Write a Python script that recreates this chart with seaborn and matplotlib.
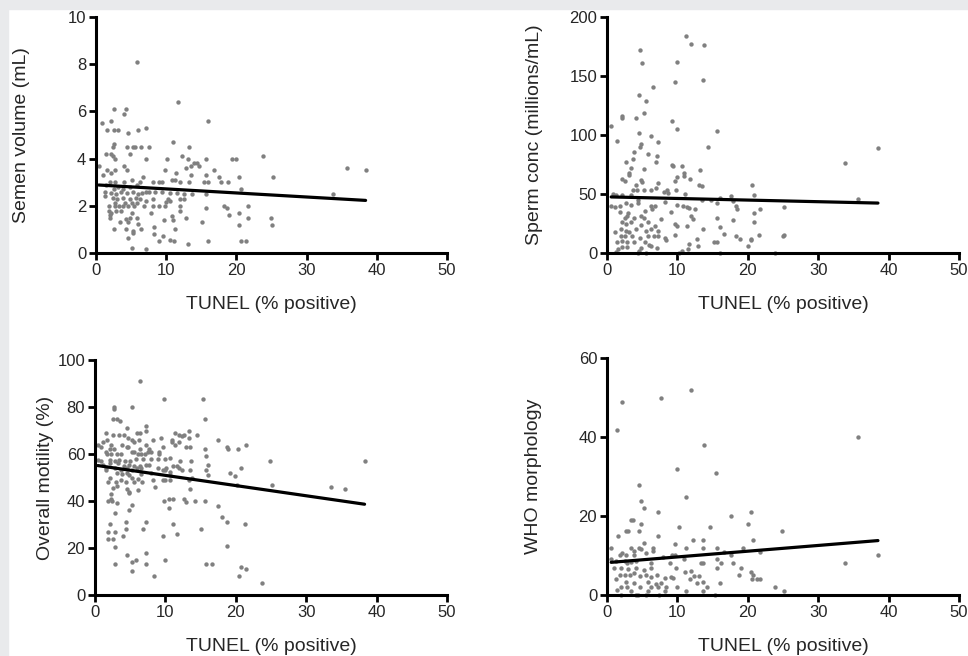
import matplotlib
matplotlib.use("Agg")
import matplotlib.pyplot as plt
import seaborn as sns
import numpy as np
from matplotlib.patches import Rectangle

# TUNEL (% positive) vs semen parameters
vol_x = [5.8, 11.7, 16.0, 0.8, 2.6, 4.3, 4.0, 2.1, 1.5, 2.5, 3.2, 4.6, 6.0, 7.1, 2.4, 2.6, 4.4, 5.2, 5.5, 6.4,
         7.6, 10.9, 13.3, 1.4, 2.1, 2.4, 4.9, 2.7, 7.1, 10.1, 12.2, 13.1, 15.6, 19.3, 19.9, 23.8, 0.4, 4.0, 13.6, 13.9,
         14.4, 14.7, 16.8, 35.7, 38.4, 25.2, 20.4, 15.6, 13.6, 12.8, 11.4, 9.8, 1.6, 2.7, 4.4, 2.1, 1.0, 17.5, 17.8, 18.8,
         15.4, 16.0, 13.3, 12.0, 10.8, 11.3, 9.0, 8.1, 9.4, 6.7, 6.2, 5.8, 5.1, 4.0, 2.7, 2.0, 1.4, 3.2, 4.9, 3.9,
         2.5, 1.3, 2.1, 2.9, 3.5, 4.4, 5.3, 6.0, 6.5, 7.1, 7.5, 8.4, 9.4, 10.5, 11.5, 12.6, 13.7, 15.6, 20.7, 33.8,
         1.3, 2.4, 3.0, 3.9, 4.9, 5.7, 6.3, 7.1, 8.1, 10.3, 12.0, 12.5, 2.7, 4.1, 5.1, 5.8, 1.8, 2.7, 3.3, 3.9,
         4.6, 5.4, 6.9, 8.1, 9.0, 9.8, 10.6, 11.9, 18.2, 21.6, 1.8, 2.2, 2.9, 3.5, 5.1, 7.9, 10.0, 11.9, 18.7, 20.4,
         2.0, 4.2, 4.9, 5.9, 2.0, 10.8, 12.8, 15.6, 18.9, 21.6, 24.9, 3.4, 4.5, 6.0, 9.7, 10.9, 15.1, 2.6, 4.3, 5.3,
         5.3, 6.4, 8.3, 11.3, 20.4, 25.0, 8.3, 9.5, 4.5, 9.0, 10.6, 11.1, 13.1, 15.9, 20.6, 21.4, 5.1, 7.1]
vol_y = [8.1, 6.4, 5.6, 5.5, 6.1, 6.1, 5.9, 5.6, 5.2, 5.2, 5.2, 5.1, 5.2, 5.3, 4.5, 4.6, 4.5, 4.5, 4.5, 4.5,
         4.5, 4.7, 4.5, 4.2, 4.2, 4.1, 4.2, 4.0, 4.0, 4.0, 4.1, 4.0, 4.0, 4.0, 4.0, 4.1, 3.7, 3.7, 3.7, 3.8,
         3.8, 3.7, 3.5, 3.6, 3.5, 3.2, 3.2, 3.3, 3.3, 3.6, 3.4, 3.5, 3.5, 3.5, 3.5, 3.4, 3.3, 3.2, 3.0, 3.0,
         3.0, 3.0, 3.0, 3.0, 3.1, 3.1, 3.0, 3.0, 3.0, 3.2, 3.0, 2.9, 3.1, 3.0, 3.0, 3.0, 2.9, 2.8, 2.8, 2.7,
         2.7, 2.6, 2.55, 2.5, 2.6, 2.55, 2.6, 2.5, 2.55, 2.6, 2.6, 2.6, 2.6, 2.55, 2.55, 2.5, 2.5, 2.5, 2.7, 2.5,
         2.4, 2.35, 2.3, 2.35, 2.3, 2.35, 2.3, 2.2, 2.3, 2.3, 2.3, 2.3, 2.1, 2.1, 2.1, 2.1, 2.0, 2.0, 2.0, 2.0,
         2.0, 2.0, 2.0, 2.0, 2.0, 2.0, 2.2, 2.0, 2.0, 2.0, 1.8, 1.7, 1.8, 1.8, 1.7, 1.7, 2.15, 1.8, 1.9, 1.7,
         1.5, 1.45, 1.5, 1.5, 1.6, 1.55, 1.5, 1.9, 1.6, 1.5, 1.5, 1.3, 1.3, 1.25, 1.4, 1.4, 1.3, 1.0, 1.0, 0.95,
         0.85, 1.0, 1.1, 1.0, 1.2, 1.2, 0.8, 0.7, 0.65, 0.5, 0.55, 0.5, 0.4, 0.5, 0.5, 0.5, 0.2, 0.15]

conc_x = [11.2, 12.0, 13.8, 4.7, 5.0, 10.0, 9.7, 13.7, 6.5, 4.6, 5.5, 5.2, 2.2, 2.2, 4.1, 9.2, 0.6, 10.0, 15.6, 4.5,
          1.5, 6.2, 7.2, 14.3, 38.5, 4.9, 4.7, 3.9, 5.9, 7.1, 3.7, 2.7, 7.0, 33.8, 9.3, 9.4, 10.7, 13.2, 3.4, 5.2,
          3.2, 11.0, 11.0, 3.1, 2.1, 2.5, 4.8, 5.0, 4.1, 9.6, 10.0, 11.8, 13.1, 13.5, 7.2, 20.6, 20.9, 4.2, 5.2, 7.0,
          8.1, 8.5, 9.8, 8.7, 11.1, 0.9, 1.3, 2.1, 3.7, 3.4, 6.3, 16.1, 17.6, 17.9, 14.8, 35.6, 13.5, 0.6, 1.1, 1.9,
          2.7, 4.4, 3.4, 4.4, 6.3, 6.8, 8.2, 10.0, 10.8, 11.4, 11.6, 12.5, 15.6, 18.3, 18.5, 21.7, 20.9, 25.1, 1.8, 3.0,
          5.4, 6.4, 9.1, 2.5, 2.9, 3.8, 4.8, 5.2, 7.7, 12.0, 12.2, 15.7, 17.9, 20.9, 2.2, 2.7, 3.4, 4.8, 5.8, 6.8,
          9.6, 10.0, 11.4, 13.6, 16.1, 1.1, 2.0, 2.7, 3.2, 4.1, 5.5, 6.3, 7.2, 16.7, 2.0, 2.5, 3.6, 4.7, 5.8, 6.7,
          7.3, 8.2, 9.7, 12.8, 18.3, 18.9, 20.5, 25.2, 25.0, 21.6, 1.5, 2.2, 2.9, 3.8, 5.4, 6.0, 8.4, 11.7, 13.0, 15.2,
          15.7, 20.0, 20.5, 1.6, 2.1, 2.8, 4.5, 4.8, 6.3, 7.1, 10.6, 11.5, 4.4, 5.5, 10.3, 16.1, 23.9, 1.3]
conc_y = [184, 177, 176, 172, 161, 162, 145, 147, 141, 134, 129, 119, 116, 114, 114, 112, 108, 105, 103, 102,
          95, 99, 94, 90, 89, 92, 90, 86, 84, 82, 80, 77, 77, 76, 75, 74, 74, 70, 72, 71,
          68, 68, 65, 66, 63, 61, 62, 60, 58, 61, 64, 63, 58, 57, 59, 58, 49, 53, 53, 55,
          52, 53, 53, 51, 50, 50, 49, 49, 53, 49, 53, 47, 48, 44, 45, 46, 45, 40, 39, 40,
          42, 45, 41, 42, 40, 40, 43, 41, 40, 39, 38, 37, 42, 40, 37, 37, 34, 39, 35, 34,
          36, 37, 35, 30, 31, 30, 31, 30, 29, 31, 29, 30, 28, 26, 26, 25, 26, 24, 26, 23,
          25, 23, 23, 20, 22, 18, 20, 19, 18, 20, 19, 20, 19, 16, 14, 14, 14, 13, 14, 14,
          14, 13, 15, 12, 14, 12, 12, 15, 14, 15, 9, 10, 9, 9, 9, 7, 11, 8, 6, 9,
          9, 6, 11, 3, 5, 5, 2, 4, 6, 4, 2, 3, 0, 0, 0, 0, 0, 1]

mot_x = [6.4, 9.8, 15.4, 2.7, 2.7, 5.2, 15.6, 2.6, 3.1, 3.6, 7.2, 7.2, 4.5, 13.4, 11.3, 1.5, 14.5, 2.6, 3.4, 4.1,
         6.0, 6.4, 4.7, 5.2, 9.4, 10.9, 12.7, 12.0, 12.4, 0.5, 1.1, 1.7, 2.3, 3.9, 4.5, 5.6, 6.3, 7.3, 8.2, 10.9,
         11.3, 11.9, 13.4, 17.5, 21.5, 0.8, 1.5, 2.1, 2.7, 3.1, 4.7, 5.2, 5.6, 6.4, 7.7, 8.0, 9.1, 9.7, 13.0, 13.5,
         15.7, 18.7, 18.9, 20.3, 1.7, 2.3, 3.7, 6.1, 6.6, 7.1, 7.6, 9.1, 10.7, 15.8, 38.3, 24.8, 0.4, 0.9, 2.2, 2.8,
         3.4, 4.2, 5.0, 5.8, 6.8, 7.9, 9.0, 9.9, 12.1, 13.6, 16.1, 1.1, 2.1, 3.3, 4.1, 4.8, 5.6, 6.4, 7.3, 7.7,
         9.0, 10.1, 11.1, 11.6, 12.0, 20.7, 1.5, 1.5, 2.9, 3.7, 4.5, 5.2, 6.0, 6.6, 9.6, 9.9, 10.6, 12.3, 13.5, 15.8,
         16.0, 3.1, 3.8, 4.5, 4.9, 6.6, 8.0, 10.7, 13.8, 19.2, 19.9, 2.1, 3.7, 5.2, 6.1, 8.2, 9.7, 10.0, 10.6, 13.3,
         1.8, 3.0, 4.4, 5.6, 6.7, 20.2, 25.2, 3.2, 8.6, 33.6, 35.5, 13.5, 2.6, 4.5, 4.9, 6.1, 4.9, 2.3, 2.3, 1.8,
         2.4, 10.5, 11.1, 12.6, 9.8, 13.0, 14.2, 15.7, 17.5, 3.1, 5.2, 4.9, 10.5, 2.8, 18.1, 18.7, 21.3, 4.4, 7.2, 2.2,
         11.1, 4.4, 6.8, 1.8, 2.9, 15.0, 11.7, 4.0, 1.8, 2.5, 9.6, 2.8, 18.8, 7.2, 4.5, 5.9, 10.0, 5.2, 2.9, 7.2,
         15.8, 16.6, 20.7, 21.5, 5.3, 8.4, 20.4, 23.8]
mot_y = [91, 83.5, 83.5, 80, 79, 80, 75, 75, 75, 74, 72, 70, 71, 70, 69, 69, 68, 68, 68, 68,
         69, 69, 67, 66, 67, 66, 68, 68, 67.5, 64, 65, 66, 64, 64, 63, 65, 66, 64, 66, 65,
         64, 65, 67, 66, 64, 63, 61, 62, 62, 60, 63, 61, 61, 62, 62, 61, 61, 63, 63, 63,
         62, 63, 62, 62, 60, 60, 60, 60, 60, 60, 61, 60, 58.5, 59, 57, 57, 57.5, 57, 57.5, 57,
         57.5, 57, 57, 58, 58, 58, 58, 58, 57, 57, 55.5, 55.5, 56, 56, 55, 55.5, 55, 55, 55.5, 55.5,
         54, 54, 55, 55, 54, 54, 54, 53, 54, 53, 54, 53, 54, 54, 53, 53, 52.5, 53, 53, 53,
         51, 52, 51.5, 52, 51, 51.5, 52, 51, 50, 52, 50.5, 50, 49, 50, 49.5, 49, 49, 49, 49, 49,
         48, 48, 48, 48, 48, 47, 47, 46.5, 46, 46, 45, 45, 45.5, 45, 44, 44.5, 43.5, 43, 41, 40,
         40, 41, 41, 41, 40, 39.5, 40, 40, 38, 39, 38.5, 36, 37, 35, 33, 31, 30, 31, 31, 30,
         30, 28, 28, 27, 27, 28, 26, 25, 24, 24, 25, 20.5, 21, 18, 17, 15, 15, 14, 13, 13,
         13, 13, 12, 11, 10, 8, 8, 5]

who_x = [12.0, 7.7, 2.2, 1.5, 35.6, 13.8, 10.0, 15.5, 4.5, 11.2, 4.8, 5.2, 7.2, 20.5, 17.6, 20.0, 3.4, 3.7, 4.9, 24.9,
         10.3, 14.7, 2.7, 3.0, 4.5, 1.6, 7.2, 5.3, 20.8, 12.2, 13.7, 9.7, 0.6, 3.4, 3.8, 4.6, 4.9, 6.5, 6.5, 11.3,
         13.7, 15.6, 19.4, 21.7, 16.7, 2.1, 1.8, 2.7, 3.9, 5.6, 7.9, 9.3, 9.7, 17.6, 38.5, 0.6, 1.3, 2.5, 2.9, 3.4,
         4.1, 6.2, 8.9, 10.9, 13.3, 13.6, 15.6, 16.2, 17.9, 33.8, 1.0, 2.0, 3.0, 4.1, 5.2, 6.3, 9.8, 11.1, 11.9, 15.7,
         19.0, 20.5, 1.8, 2.5, 3.3, 3.9, 4.7, 5.5, 6.3, 7.1, 9.1, 9.4, 12.4, 13.1, 18.8, 20.7, 20.6, 21.3, 21.8, 11.8,
         1.3, 2.7, 3.9, 5.8, 7.0, 7.7, 8.3, 12.8, 13.6, 16.1, 2.0, 2.9, 4.7, 6.3, 7.3, 8.4, 10.0, 14.2, 23.9, 1.5,
         3.4, 5.8, 8.2, 11.2, 13.6, 25.2, 2.0, 4.1, 4.4, 5.5, 7.4, 15.3]
who_y = [51.8, 49.9, 48.9, 41.8, 39.9, 37.9, 31.9, 30.9, 27.9, 24.9, 23.9, 22.0, 21.0, 21.0, 20.0, 18.0, 18.9, 18.9, 18.0, 16.1,
         17.1, 17.1, 16.1, 16.1, 16.1, 15.0, 15.0, 13.1, 13.9, 13.9, 13.9, 12.9, 12.0, 11.8, 11.2, 11.8, 11.6, 11.8, 11.2, 12.0,
         12.0, 12.0, 12.0, 11.0, 11.0, 10.6, 10.1, 10.1, 10.1, 10.6, 9.5, 10.1, 10.0, 10.1, 10.0, 9.1, 8.5, 8.6, 8.0, 8.3,
         8.6, 8.0, 8.0, 9.1, 8.0, 8.0, 9.1, 8.0, 8.0, 8.0, 6.9, 6.8, 6.6, 6.9, 6.3, 6.8, 6.8, 5.9, 6.1, 6.9,
         6.9, 5.9, 5.1, 5.1, 5.1, 5.5, 4.9, 5.1, 4.6, 5.1, 4.6, 4.4, 4.9, 4.9, 5.1, 5.1, 4.1, 4.1, 4.1, 4.1,
         4.1, 3.4, 3.0, 3.4, 2.7, 3.0, 4.2, 3.0, 3.2, 3.0, 2.1, 1.9, 1.9, 2.1, 1.9, 2.1, 2.1, 2.1, 2.1, 1.3,
         1.0, 1.0, 1.0, 1.0, 1.0, 1.0, 0, 0, 0, 0, 0, 0]

# linear fits as printed in the figure (intercept, slope)
fit_intercept = [2.888, 47.6, 55.25, 8.18]
fit_slope = [-0.01715, -0.137, -0.434, 0.1453]

x_label = "TUNEL (% positive)"
y_labels = ["Semen volume (mL)", "Sperm conc (millions/mL)", "Overall motility (%)", "WHO morphology"]
y_ticks = [[0, 2, 4, 6, 8, 10], [0, 50, 100, 150, 200], [0, 20, 40, 60, 80, 100], [0, 20, 40, 60]]
x_ticks = [0, 10, 20, 30, 40, 50]
xs_all = [vol_x, conc_x, mot_x, who_x]
ys_all = [vol_y, conc_y, mot_y, who_y]

sns.set_style("ticks")
plt.rcParams['font.family'] = ['Liberation Sans', 'DejaVu Sans']

fig = plt.figure(figsize=(9.68, 6.56), dpi=100)
# light grey frame strips on top and left edge
fig.patches.append(Rectangle((0, 1 - 9 / 656), 1, 9 / 656, transform=fig.transFigure,
                             color='#e9eaec', zorder=0))
fig.patches.append(Rectangle((0, 0), 8 / 968, 1, transform=fig.transFigure,
                             color='#e9eaec', zorder=0))

boxes = [
    [0.0992, 0.6143, 0.3626, 0.3598],
    [0.6270, 0.6143, 0.3636, 0.3598],
    [0.0981, 0.0930, 0.3636, 0.3582],
    [0.6270, 0.0930, 0.3636, 0.3613],
]
ylab_x = [-0.188, -0.182, -0.117, -0.185]

for i in range(4):
    xs, ys = np.array(xs_all[i]), np.array(ys_all[i])
    ax = fig.add_axes(boxes[i])
    ax.set_facecolor('none')
    sns.scatterplot(x=xs, y=ys, ax=ax, s=10, color='#808080', linewidth=0, clip_on=False)
    lx = np.array([xs.min(), xs.max()])
    sns.lineplot(x=lx, y=fit_intercept[i] + fit_slope[i] * lx, ax=ax, color='black', lw=2.3)
    ax.set_xlim(0, 50)
    ax.set_ylim(0, y_ticks[i][-1])
    ax.set_xticks(x_ticks)
    ax.set_yticks(y_ticks[i])
    ax.tick_params(labelsize=12, length=5, width=2, pad=2, color='black')
    sns.despine(ax=ax)
    for s in ['left', 'bottom']:
        ax.spines[s].set_linewidth(2.2)
        ax.spines[s].set_color('black')
    ax.set_xlabel(x_label, fontsize=14)
    ax.set_ylabel(y_labels[i], fontsize=14)
    ax.xaxis.set_label_coords(0.5, -0.183)
    ax.yaxis.set_label_coords(ylab_x[i], 0.5)

plt.savefig("out.png", dpi=100)
